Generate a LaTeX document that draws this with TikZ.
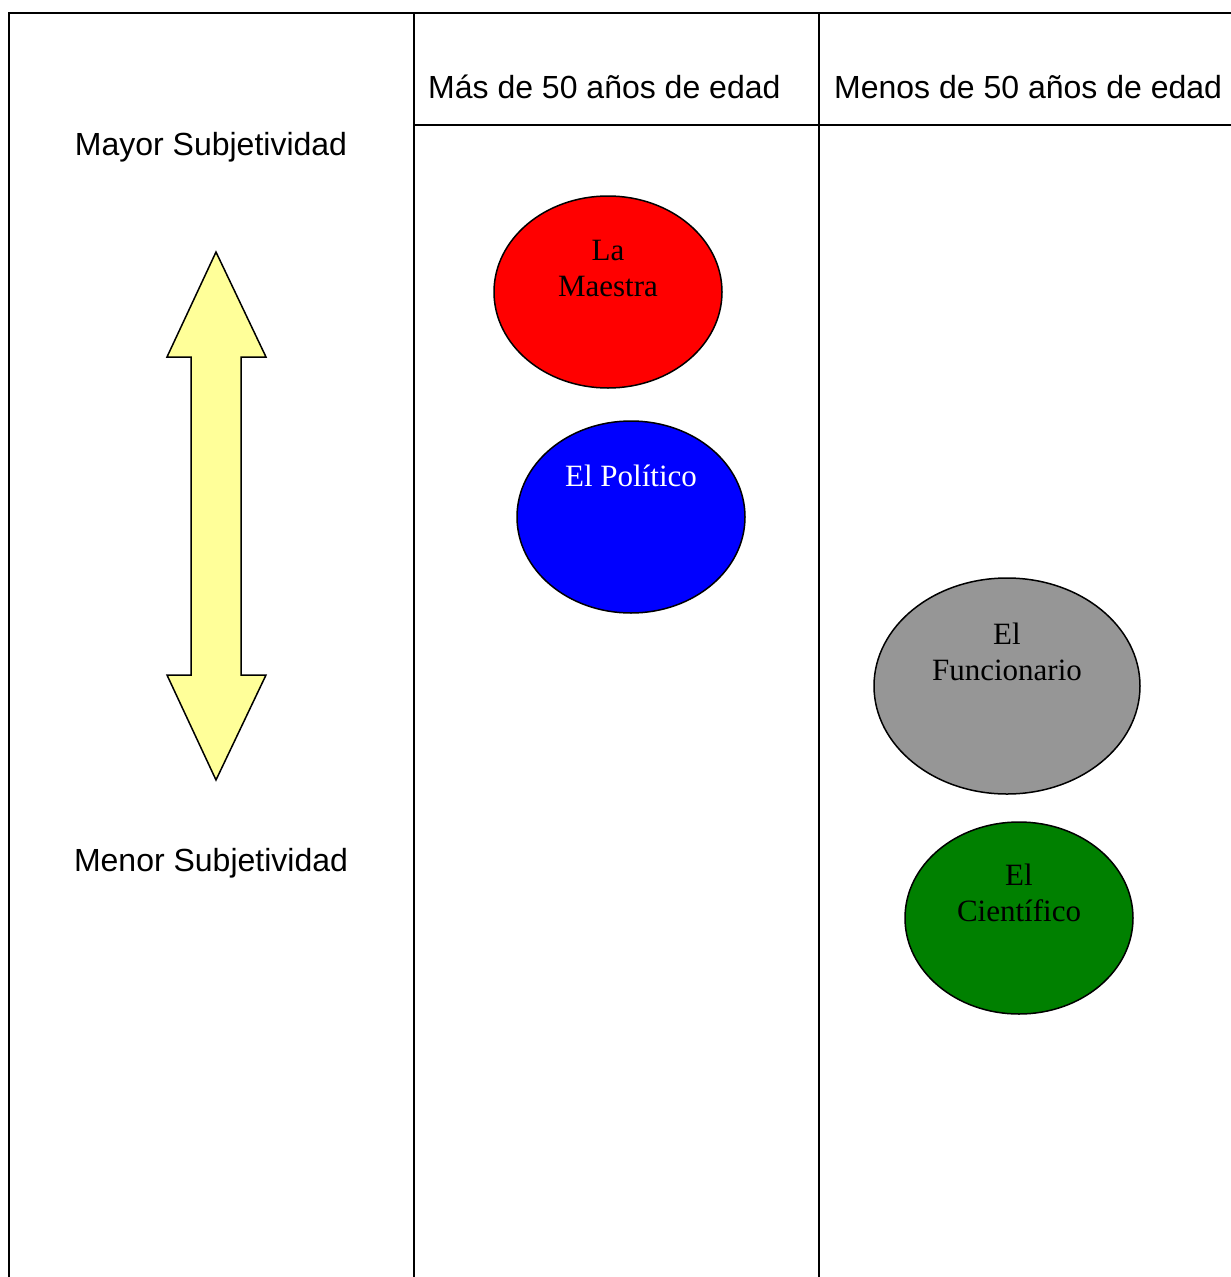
\documentclass[tikz,border=0pt]{standalone}
\usepackage{fontspec}
\setmainfont{Liberation Serif}
\setsansfont{Liberation Sans}
\usetikzlibrary{shapes.geometric}
\definecolor{flecha}{HTML}{FFFF99}
\definecolor{gris}{HTML}{969696}
\definecolor{verde}{HTML}{008000}

\begin{document}
\begin{tikzpicture}[x=1pt,y=-1pt,
    linea/.style={line width=2pt,black},
    rotulo/.style={font=\sffamily\fontsize{32}{38}\selectfont,inner sep=0pt},
    persona/.style={ellipse,draw=black,line width=1.5pt,inner sep=0pt,
                    minimum width=228pt,minimum height=192pt},
    nombre/.style={font=\fontsize{31}{36}\selectfont,align=center,
                   inner sep=0pt,anchor=base}
  ]
    \useasboundingbox (0,0) rectangle (1231,1277);

    % tabla
    \draw[linea] (9,1277) -- (9,13) -- (1231,13);
    \draw[linea] (414,13) -- (414,1277);
    \draw[linea] (819,13) -- (819,1277);
    \draw[linea] (414,125) -- (1231,125);

    \node[rotulo,anchor=base west] (mas) at (428,98) {Más de 50 años de edad};
    \node[rotulo,anchor=base west] (menos) at (834,98) {Menos de 50 años de edad};
    \node[rotulo,anchor=base] (mayor) at (211,155) {Mayor Subjetividad};
    \node[rotulo,anchor=base] (menor) at (211,871) {Menor Subjetividad};

    % flecha doble
    \draw[line width=1.5pt,fill=flecha,line join=miter]
      (216,252) -- (266,357) -- (241,357) -- (241,675) -- (266,675)
      -- (216,780) -- (167,675) -- (191,675) -- (191,357) -- (167,357) -- cycle;

    % personajes
    \node[persona,fill=red] (maestra) at (608,292) {};
    \node[nombre] (maestraTxt) at (608,296) {La\\Maestra};
    \node[persona,fill=blue] (politico) at (631,517) {};
    \node[nombre,text=white] (politicoTxt) at (631,486) {El Político};
    \node[persona,fill=gris,minimum width=266pt,minimum height=216pt] (funcionario) at (1007,686) {};
    \node[nombre] (funcionarioTxt) at (1007,680) {El\\Funcionario};
    \node[persona,fill=verde] (cientifico) at (1019,918) {};
    \node[nombre] (cientificoTxt) at (1019,921) {El\\Científico};
\end{tikzpicture}
\end{document}
